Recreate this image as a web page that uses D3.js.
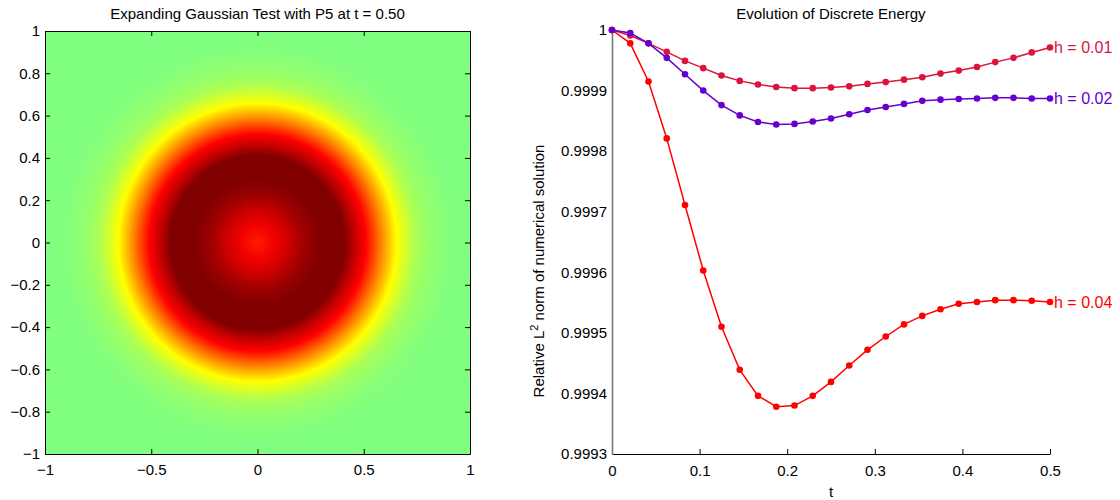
<!DOCTYPE html>
<html>
<head>
<meta charset="utf-8">
<script src="https://cdn.jsdelivr.net/npm/d3@7"></script>
<style>
  body { margin: 0; background: #fff; }
  text { font-family: "Liberation Sans", Arial, Helvetica, sans-serif; }
</style>
</head>
<body>
<svg id="chart" width="1120" height="500"></svg>
<script>
// ---- data: left panel (radial profile of the solution at t = 0.50)
var radius  = [0, 0.08, 0.15, 0.22, 0.30, 0.36, 0.41, 0.45, 0.51, 0.58, 0.655, 0.70, 0.74, 0.80, 0.87, 0.95];
var uValue  = [0.63, 0.70, 0.80, 0.92, 1.0, 1.0, 1.0, 0.85, 0.667, 0.5, 0.333, 0.22, 0.12, 0.06, 0.02, 0];
var leftTicks = [-1, -0.8, -0.6, -0.4, -0.2, 0, 0.2, 0.4, 0.6, 0.8, 1];
var leftXTicks = [-1, -0.5, 0, 0.5, 1];

// ---- data: right panel (relative L2 norm vs t)
var tVals = [0, 0.020833, 0.041667, 0.0625, 0.083333, 0.104167, 0.125, 0.145833, 0.166667,
             0.1875, 0.208333, 0.229167, 0.25, 0.270833, 0.291667, 0.3125, 0.333333,
             0.354167, 0.375, 0.395833, 0.416667, 0.4375, 0.458333, 0.479167, 0.5];
var energyH01 = [1.0, 0.999991, 0.999978, 0.999964, 0.999949, 0.999937, 0.999925, 0.999916, 0.999910,
                 0.999906, 0.999904, 0.999904, 0.999905, 0.999907, 0.999911, 0.999914, 0.999918,
                 0.999922, 0.999928, 0.999933, 0.999939, 0.999947, 0.999954, 0.999963, 0.999971];
var energyH02 = [1.0, 0.999995, 0.999978, 0.999954, 0.999927, 0.999900, 0.999876, 0.999859, 0.999848,
                 0.999844, 0.999845, 0.999849, 0.999854, 0.999861, 0.999868, 0.999873, 0.999878,
                 0.999883, 0.999885, 0.999886, 0.999887, 0.999888, 0.999888, 0.999887, 0.999887];
var energyH04 = [1.0, 0.999978, 0.999915, 0.999821, 0.999711, 0.999603, 0.999510, 0.999439, 0.999396,
                 0.999378, 0.999380, 0.999396, 0.999419, 0.999446, 0.999472, 0.999494, 0.999514,
                 0.999528, 0.999539, 0.999548, 0.999551, 0.999554, 0.999554, 0.999553, 0.999551];
var seriesNames = ["h = 0.04", "h = 0.01", "h = 0.02"];
var rightYTicks = [0.9993, 0.9994, 0.9995, 0.9996, 0.9997, 0.9998, 0.9999, 1];
var rightYLabels = ["0.9993", "0.9994", "0.9995", "0.9996", "0.9997", "0.9998", "0.9999", "1"];
var rightXTicks = [0, 0.1, 0.2, 0.3, 0.4, 0.5];

var svg = d3.select("#chart");
var fmt = d3.format("~g");

// ================= left: heat map =================
var L = {x0: 45, x1: 470, y0: 31, y1: 454};
var xL = d3.scaleLinear().domain([-1, 1]).range([L.x0, L.x1]);
var yL = d3.scaleLinear().domain([-1, 1]).range([L.y1, L.y0]);
var cmap = d3.scaleLinear()
    .domain([0, 1/3, 2/3, 1])
    .range(["#80ff80", "#ffff00", "#ff0000", "#800000"])
    .clamp(true);

var defs = svg.append("defs");
var grad = defs.append("radialGradient")
    .attr("id", "gauss")
    .attr("gradientUnits", "userSpaceOnUse")
    .attr("cx", xL(0)).attr("cy", yL(0))
    .attr("fx", xL(0)).attr("fy", yL(0))
    .attr("r", xL(1) - xL(0));
grad.selectAll("stop").data(radius).enter().append("stop")
    .attr("offset", function(d) { return d; })
    .attr("stop-color", function(d, i) { return cmap(uValue[i]); });

svg.append("rect")
    .attr("x", L.x0).attr("y", L.y0)
    .attr("width", L.x1 - L.x0).attr("height", L.y1 - L.y0)
    .attr("fill", "url(#gauss)");

var gl = svg.append("g");
gl.append("g").attr("transform", "translate(0," + L.y1 + ")")
  .call(d3.axisBottom(xL).tickValues(leftXTicks).tickFormat(fmt).tickSize(-5).tickSizeOuter(0).tickPadding(10));
gl.append("g").attr("transform", "translate(0," + L.y0 + ")")
  .call(d3.axisTop(xL).tickValues(leftXTicks).tickFormat("").tickSize(-5).tickSizeOuter(0));
gl.append("g").attr("transform", "translate(" + L.x0 + ",0)")
  .call(d3.axisLeft(yL).tickValues(leftTicks).tickFormat(fmt).tickSize(-5).tickSizeOuter(0).tickPadding(5));
gl.append("g").attr("transform", "translate(" + L.x1 + ",0)")
  .call(d3.axisRight(yL).tickValues(leftTicks).tickFormat("").tickSize(-5).tickSizeOuter(0));

svg.append("text")
    .attr("x", (L.x0 + L.x1) / 2).attr("y", 19)
    .attr("text-anchor", "middle").attr("font-size", 15)
    .text("Expanding Gaussian Test with P5 at t = 0.50");

// ================= right: energy =================
var R = {x0: 612, x1: 1050, y0: 30, y1: 454};
var xR = d3.scaleLinear().domain([0, 0.5]).range([R.x0, R.x1]);
var yR = d3.scaleLinear().domain([0.9993, 1]).range([R.y1, R.y0]);

var gr = svg.append("g");
gr.append("g").attr("class", "xaxis").attr("transform", "translate(0," + R.y1 + ")")
  .call(d3.axisBottom(xR).tickValues(rightXTicks).tickFormat(fmt).tickSize(-5).tickSizeOuter(0).tickPadding(11));
gr.append("g").attr("class", "yaxis").attr("transform", "translate(" + R.x0 + ",0)")
  .call(d3.axisLeft(yR).tickValues(rightYTicks)
        .tickFormat(function(d, i) { return rightYLabels[i]; })
        .tickSize(0).tickSizeOuter(0).tickPadding(5));
gr.select(".yaxis .domain").attr("stroke", "#777").attr("stroke-width", 1.6);

svg.selectAll(".tick text").attr("font-size", 15).attr("font-family", "Liberation Sans, Arial, sans-serif").attr("fill", "#000");

var series = [
  {name: seriesNames[0], values: energyH04, color: "#ff0000"},
  {name: seriesNames[1], values: energyH01, color: "#dc143c"},
  {name: seriesNames[2], values: energyH02, color: "#6600cc"}
];
var line = d3.line()
    .x(function(d, i) { return xR(tVals[i]); })
    .y(function(d) { return yR(d); });

series.forEach(function(s) {
  var g = svg.append("g");
  g.append("path").attr("d", line(s.values))
    .attr("fill", "none").attr("stroke", s.color).attr("stroke-width", 1.5);
  g.selectAll("circle").data(s.values).enter().append("circle")
    .attr("cx", function(d, i) { return xR(tVals[i]); })
    .attr("cy", function(d) { return yR(d); })
    .attr("r", 3.3).attr("fill", s.color);
  var last = s.values.length - 1;
  g.append("text")
    .attr("x", xR(tVals[last]) + 4).attr("y", yR(s.values[last]))
    .attr("dy", "0.36em").attr("font-size", 16).attr("fill", s.color)
    .text(s.name);
});

svg.append("text")
    .attr("x", (R.x0 + R.x1) / 2).attr("y", 19)
    .attr("text-anchor", "middle").attr("font-size", 15)
    .text("Evolution of Discrete Energy");

svg.append("text")
    .attr("x", (R.x0 + R.x1) / 2).attr("y", 497)
    .attr("text-anchor", "middle").attr("font-size", 15)
    .text("t");

var yl = svg.append("text")
    .attr("transform", "translate(544,271) rotate(-90)")
    .attr("text-anchor", "middle").attr("font-size", 15);
yl.append("tspan").text("Relative L");
yl.append("tspan").attr("baseline-shift", "super").attr("font-size", 11).text("2");
yl.append("tspan").text(" norm of numerical solution");
</script>
</body>
</html>
